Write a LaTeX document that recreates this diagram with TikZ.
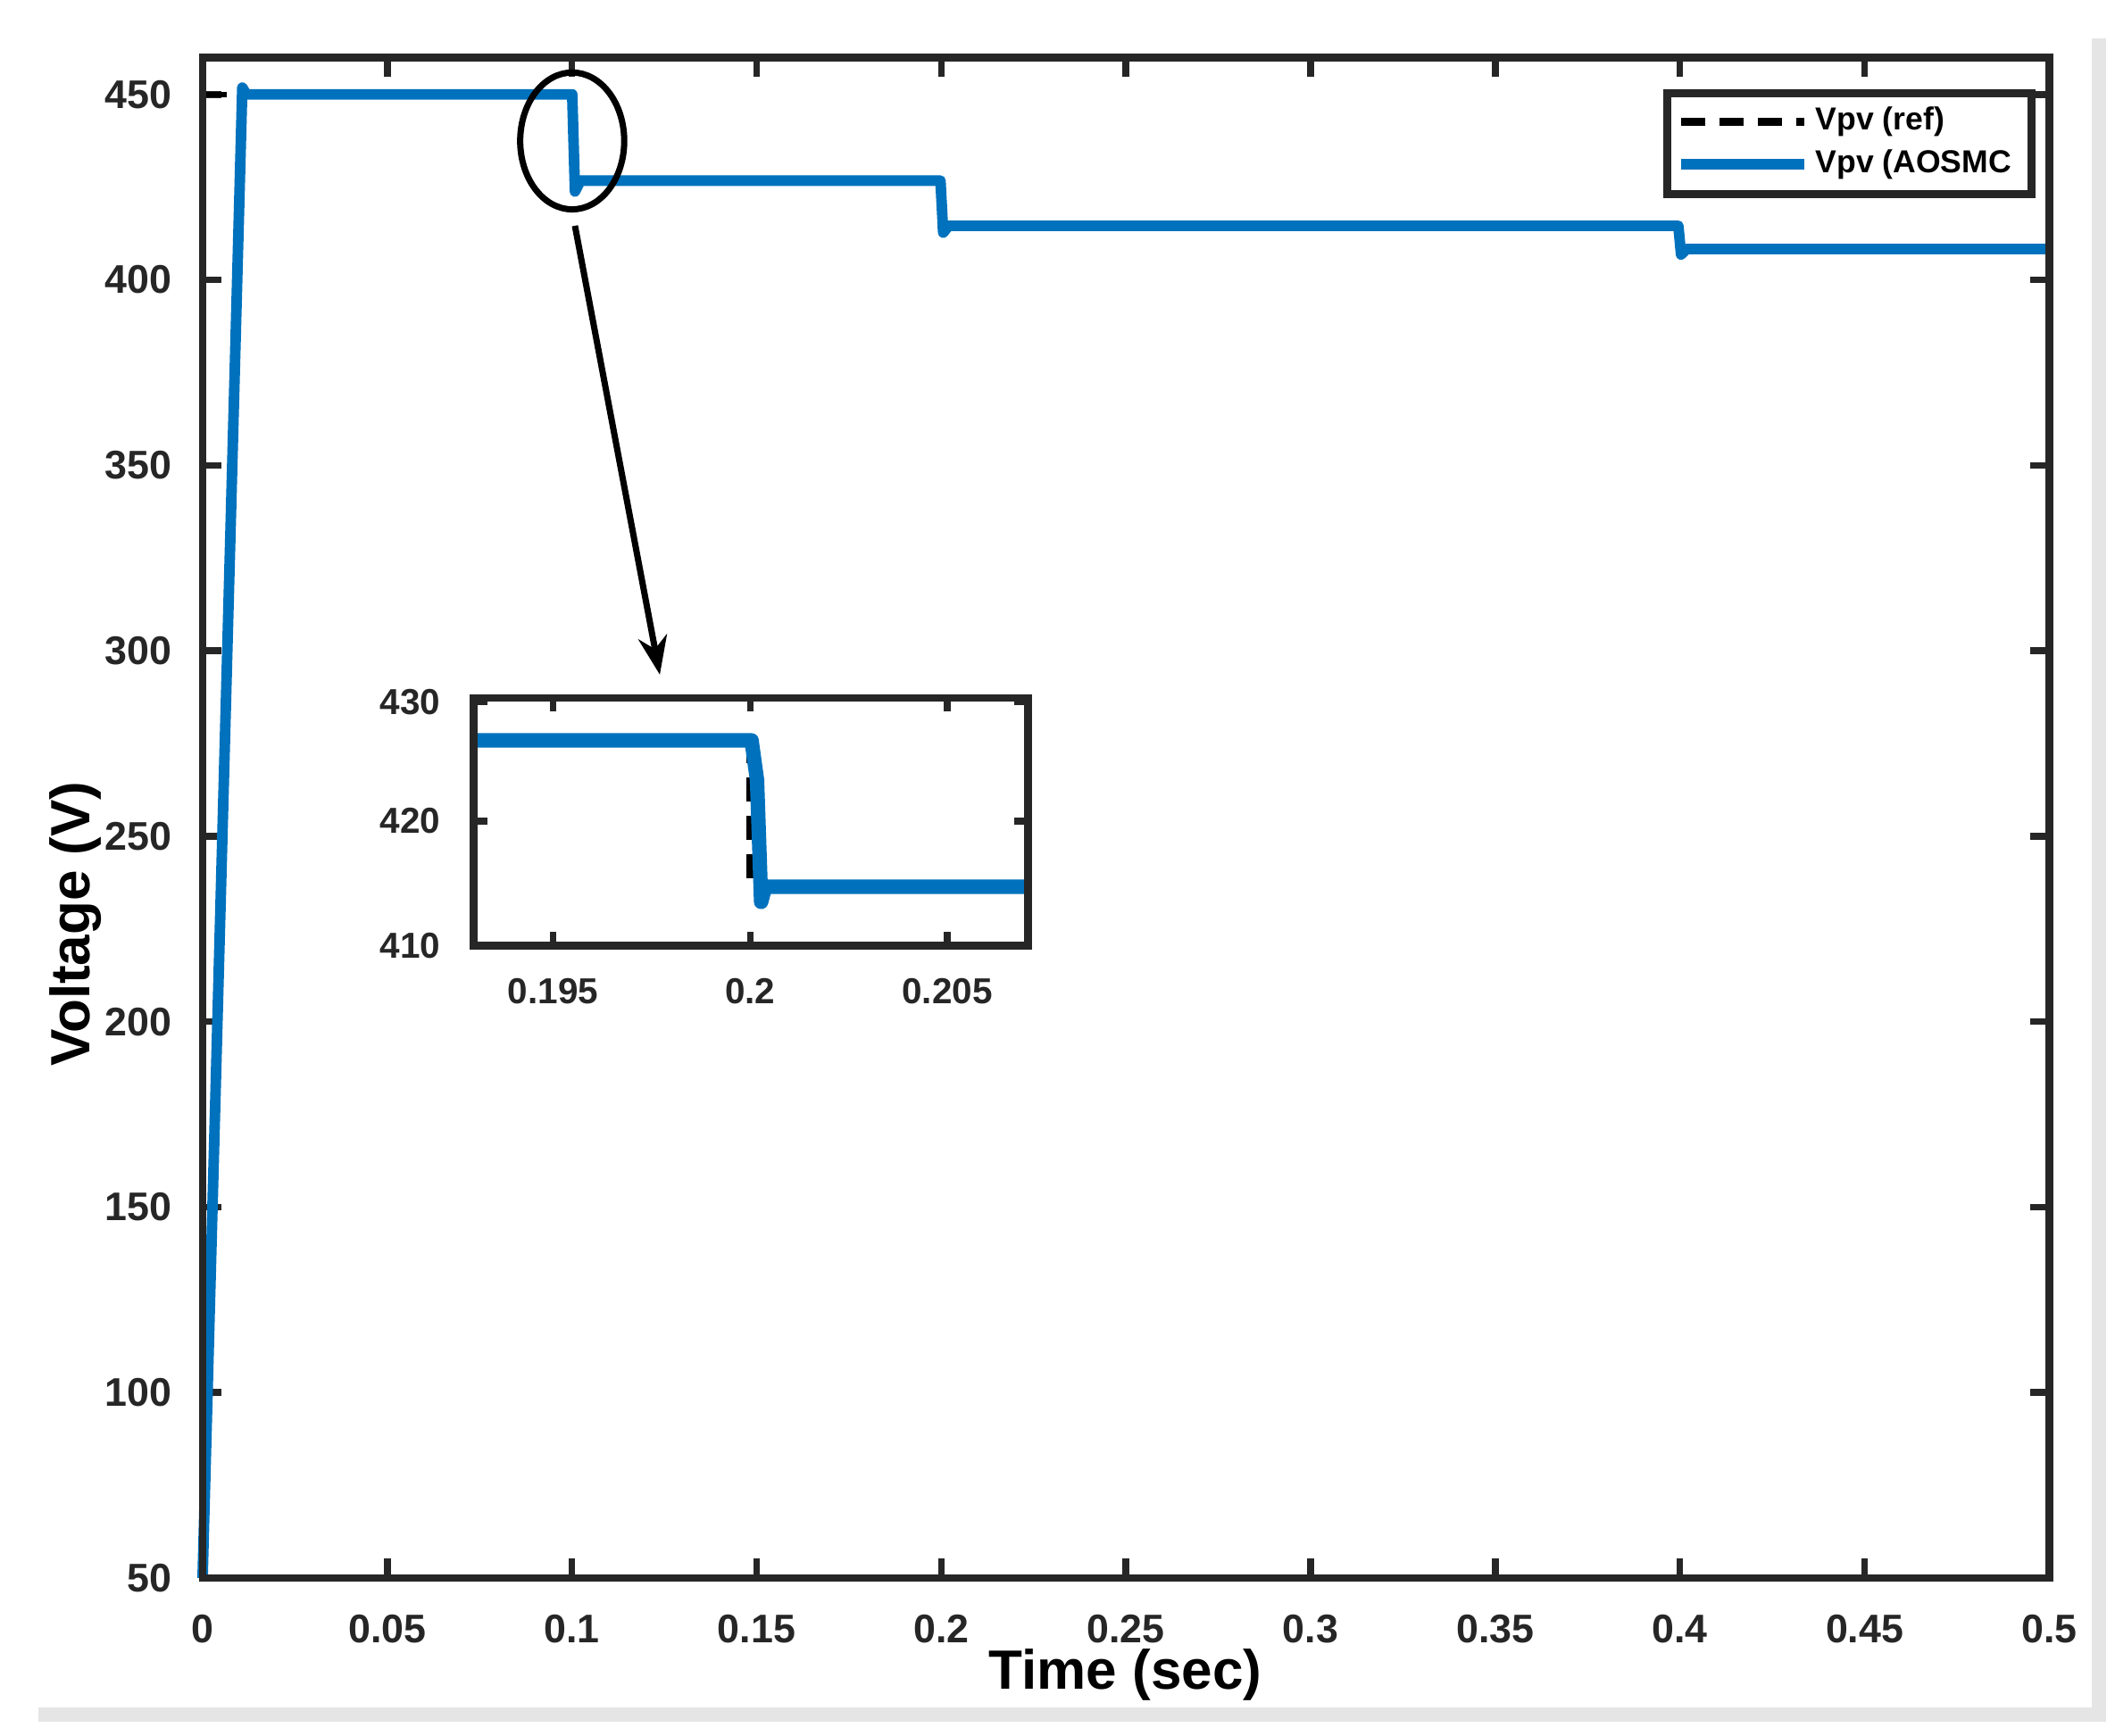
\documentclass[tikz,border=0pt]{standalone}
\usepackage{fontspec}
\setmainfont{Liberation Sans}
\usetikzlibrary{arrows.meta}
\definecolor{mblue}{HTML}{0072BD}
\definecolor{axc}{HTML}{262626}
\begin{document}
\begin{tikzpicture}[x=0.01cm,y=-0.01cm,
  ax/.style={draw=axc,line width=1.6pt},
  tk/.style={draw=axc,line width=1.4pt},
  lab/.style={font=\bfseries\fontsize{8.3}{9}\selectfont,text=axc},
  ilab/.style={font=\bfseries\fontsize{7.5}{8}\selectfont,text=axc},
  blue/.style={draw=mblue,line width=2.2pt,line join=round},
  ref/.style={draw=black,line width=1.2pt,dash pattern=on 5pt off 3pt}]
\useasboundingbox (0,0) rectangle (1545,1268);
\fill[white] (0,0) rectangle (1545,1268);
\draw[gray!20,line width=3pt] (1533,28)--(1533,1253)--(28,1253);
% main axes
\foreach \v in {50,100,...,450}{
  \pgfmathsetmacro\yy{1153-2.71*(\v-50)}
  \draw[tk] (148,\yy)--(162,\yy) (1497,\yy)--(1483,\yy);
  \node[lab,anchor=east] (yl\v) at (138,\yy) {\v};}
\foreach \t/\s in {0/0,0.05/0.05,0.1/0.1,0.15/0.15,0.2/0.2,0.25/0.25,0.3/0.3,0.35/0.35,0.4/0.4,0.45/0.45,0.5/0.5}{
  \pgfmathsetmacro\xx{148+2698*\t}
  \draw[tk] (\xx,1153)--(\xx,1139) (\xx,42)--(\xx,56);
  \node[lab] (xl\s) at (\xx,1190) {\s};}
\draw[ref] (148,69)--(418,69)--(418,132)--(687,132)--(687,165)--(1226,165)--(1226,182)--(1497,182);
\draw[blue] (148,1153)--(177,64)--(180,69)--(418,69)--(420,140)--(424,132)--(687,132)--(689,170)--(693,165)--(1226,165)--(1228,186)--(1232,182)--(1497,182);
\draw[ax] (148,42) rectangle (1497,1153);
\node[font=\bfseries\fontsize{11.5}{13}\selectfont,text=black] (xt) at (822,1224) {Time (sec)};
\node[font=\bfseries\fontsize{11.5}{13}\selectfont,text=black,rotate=90] (yt) at (55,675) {Voltage (V)};
% legend
\draw[ax,fill=white] (1218,68) rectangle (1484,142);
\draw[ref,line width=1.6pt] (1228,89)--(1318,89);
\draw[blue] (1228,120)--(1318,120);
\node[font=\bfseries\fontsize{6.6}{7}\selectfont,anchor=west,inner sep=1pt] (l1) at (1322,89) {Vpv (ref)};
\node[font=\bfseries\fontsize{6.6}{7}\selectfont,anchor=west,inner sep=1pt] (l2) at (1322,120) {Vpv (AOSMC};
% zoom marker
\draw[black,line width=1.3pt] (418,103) ellipse [x radius=38,y radius=50];
\coordinate (a1) at (420,165);
\coordinate (a2) at (482,493);
\draw[black,line width=1.3pt,-{Stealth[length=8pt,width=6pt]}] (a1)--(a2);
% inset
\fill[white] (346,510) rectangle (751,691);
\foreach \v/\yy in {410/691,420/600,430/513}{
  \draw[tk] (346,\yy)--(356,\yy) (751,\yy)--(741,\yy);
  \node[ilab,anchor=east] (il\v) at (334,\yy) {\v};}
\foreach \s/\xx in {0.195/404,0.2/548,0.205/692}{
  \draw[tk] (\xx,691)--(\xx,681) (\xx,510)--(\xx,520);
  \node[ilab] (ix\s) at (\xx,724) {\s};}
\draw[ref,line width=1.6pt] (548,540)--(548,645);
\draw[blue,line width=3pt] (346,541)--(549,541)--(553,570)--(556,659)--(559,648)--(751,648);
\draw[ax] (346,510) rectangle (751,691);
\end{tikzpicture}
\end{document}
